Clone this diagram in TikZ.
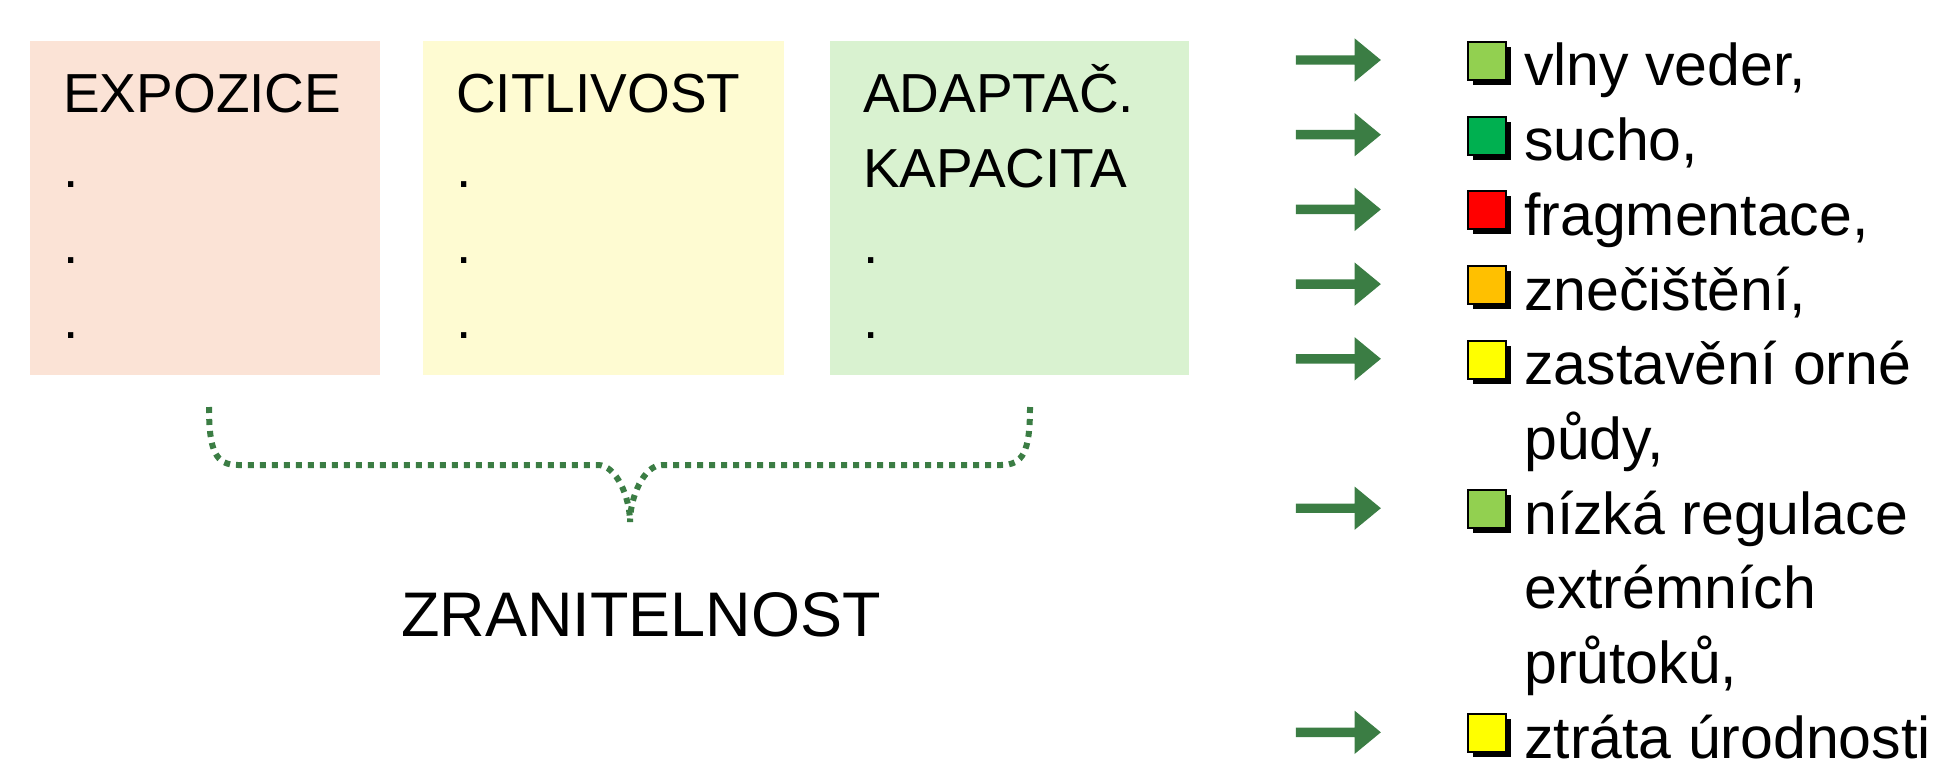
\documentclass[tikz,border=0pt]{standalone}
\usepackage{fontspec}
\setmainfont{Liberation Sans}
\usetikzlibrary{shapes.arrows,shadows,positioning}

\definecolor{expofill}{HTML}{FBE3D6}
\definecolor{citfill}{HTML}{FEFBD2}
\definecolor{adapfill}{HTML}{D9F2D0}
\definecolor{arrowgreen}{RGB}{59,125,68}
\definecolor{lgreen}{HTML}{92D050}
\definecolor{dgreen}{HTML}{00B050}
\definecolor{bred}{HTML}{FF0000}
\definecolor{borange}{HTML}{FFC000}
\definecolor{byellow}{HTML}{FFFF00}

\tikzset{
  panel/.style={rectangle, anchor=north west, minimum height=334pt, inner sep=0pt},
  lbl/.style={anchor=base west, inner sep=0pt, font=\fontsize{55}{66}\selectfont},
  item/.style={anchor=base west, inner sep=0pt, font=\fontsize{59}{71}\selectfont},
  bullet/.style={rectangle, draw=black, line width=2pt, minimum size=38pt, inner sep=0pt,
    drop shadow={opacity=1, fill=black, shadow xshift=5pt, shadow yshift=-5pt}},
  bigarrow/.style={single arrow, fill=arrowgreen, inner sep=4.5pt, minimum height=85pt,
    minimum width=43pt, single arrow head extend=17pt, single arrow tip angle=79},
  brace/.style={arrowgreen, line width=6pt, dash pattern=on 6pt off 6pt}
}

\begin{document}
\begin{tikzpicture}[x=1pt, y=-1pt]
\useasboundingbox (0,0) rectangle (1948,770);

% the three boxes
\node[panel, fill=expofill, minimum width=350pt] (expo) at (30,41) {};
\node[panel, fill=citfill, minimum width=361pt] (cit) at (423,41) {};
\node[panel, fill=adapfill, minimum width=359pt] (adap) at (830,41) {};

\node[lbl] (expot) at ([shift={(33,72)}]expo.north west) {EXPOZICE};
\node[lbl] (citt) at ([shift={(33,72)}]cit.north west) {CITLIVOST};
\node[lbl] (adapt) at ([shift={(33,72)}]adap.north west) {ADAPTAČ.};
\node[lbl] (adapt2) at ([shift={(33,147)}]adap.north west) {KAPACITA};
\foreach \k in {1,2,3}{
  \node[lbl] (expod\k) at ([shift={(33,72+75*\k)}]expo.north west) {.};
  \node[lbl] (citd\k) at ([shift={(33,72+75*\k)}]cit.north west) {.};
}
\foreach \k in {2,3}
  \node[lbl] (adapd\k) at ([shift={(33,72+75*\k)}]adap.north west) {.};

% brace
\coordinate (bl) at (209,407);
\coordinate (br) at (1030,407);
\coordinate (btip) at (630,522);
\draw[brace] (bl) .. controls +(0,45) and +(-22,0) .. (238,465) -- (598,465)
  .. controls +(18,0) and +(0,-25) .. (btip);
\draw[brace] (br) .. controls +(0,45) and +(22,0) .. (1001,465) -- (662,465)
  .. controls +(-18,0) and +(0,-25) .. (btip);

\node[anchor=base, inner sep=0pt, font=\fontsize{63}{76}\selectfont] (zran) at (641,636) {ZRANITELNOST};

% list on the right
\foreach \r/\clr/\txt in {0/lgreen/{vlny veder,}, 1/dgreen/{sucho,}, 2/bred/{fragmentace,},
    3/borange/{znečištění,}, 4/byellow/{zastavění orné}, 6/lgreen/{nízká regulace},
    9/byellow/{ztráta úrodnosti}}{
  \pgfmathsetmacro{\yb}{86+74.7*\r}
  \node[item] (item\r) at (1524,\yb) {\txt};
  \node[bullet, fill=\clr] (sq\r) at (1487,\yb-25) {};
  \node[bigarrow] (arr\r) at (1335.5,\yb-26) {};
}
\foreach \r/\txt in {5/{půdy,}, 7/{extrémních}, 8/{průtoků,}}{
  \pgfmathsetmacro{\yb}{86+74.7*\r}
  \node[item] (item\r) at (1524,\yb) {\txt};
}
\end{tikzpicture}
\end{document}
